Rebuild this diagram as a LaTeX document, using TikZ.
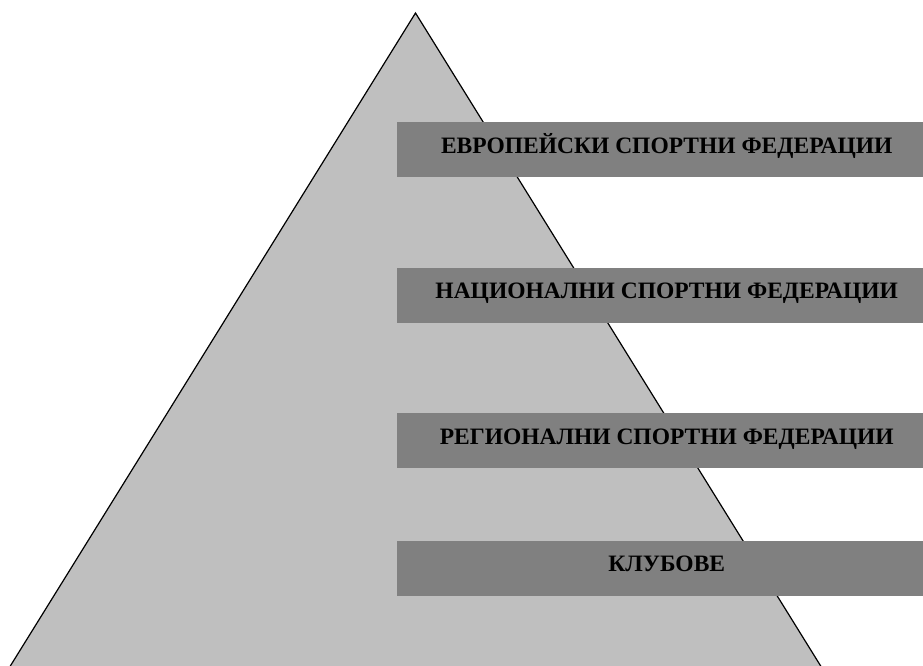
\documentclass[tikz,border=0pt]{standalone}
\usepackage{fontspec}
\setmainfont{Liberation Serif}
\begin{document}
\begin{tikzpicture}[x=1pt,y=-1pt,
  band/.style={fill=black!50, draw=none, minimum height=55pt, minimum width=539pt,
    text height=31pt, text depth=24pt,
    inner sep=0pt, anchor=north west, font=\bfseries\fontsize{23.5}{26}\selectfont, text=black}]
\useasboundingbox (0,0) rectangle (923,666);
\begin{scope}
\clip (0,0) rectangle (923,666);
\draw[fill=black!25, line width=1.2pt] (-23.2,720) -- (415.5,13) -- (854.2,720);
\end{scope}
\begin{scope}
\clip (0,0) rectangle (923,666);
\node[band] (eu) at (397,122) {ЕВРОПЕЙСКИ СПОРТНИ ФЕДЕРАЦИИ};
\node[band] (nat) at (397,267.5) {НАЦИОНАЛНИ СПОРТНИ ФЕДЕРАЦИИ};
\node[band] (reg) at (397,413) {РЕГИОНАЛНИ СПОРТНИ ФЕДЕРАЦИИ};
\node[band] (club) at (397,540.5) {КЛУБОВЕ};
\end{scope}
\end{tikzpicture}
\end{document}
